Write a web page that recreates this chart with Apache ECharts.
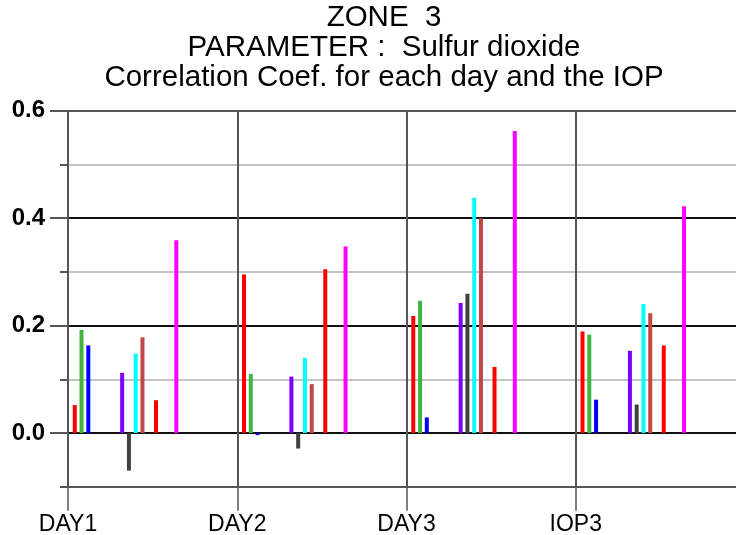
<!DOCTYPE html>
<html>
<head>
<meta charset="utf-8">
<script src="https://cdn.jsdelivr.net/npm/echarts@6/dist/echarts.min.js"></script>
<style>
html,body{margin:0;padding:0;background:#fff;}
#chart{width:736px;height:535px;}
</style>
</head>
<body>
<div id="chart"></div>
<script>
// ---- data ----
var categories = ['DAY1', 'DAY2', 'DAY3', 'IOP3'];
var redA    = [0.052, 0.295, 0.218, 0.189];
var green   = [0.192, 0.110, 0.246, 0.183];
var blue    = [0.163, -0.004, 0.029, 0.062];
var purple  = [0.112, 0.105, 0.242, 0.153];
var gray    = [-0.070, -0.029, 0.259, 0.053];
var cyan    = [0.148, 0.140, 0.438, 0.240];
var brown   = [0.178, 0.091, 0.400, 0.223];
var redB    = [0.061, 0.305, 0.123, 0.163];
var magenta = [0.359, 0.347, 0.562, 0.422];
var yTickLabels = ['0.0', '0.2', '0.4', '0.6'];

// ---- layout of slots within each group ----
var slotsPerGroup = 25;
var seriesDefs = [
  {values: redA,    slot: 1,  color: '#ff0000'},
  {values: green,   slot: 2,  color: '#3fb43f'},
  {values: blue,    slot: 3,  color: '#0000ff'},
  {values: purple,  slot: 8,  color: '#8000ff'},
  {values: gray,    slot: 9,  color: '#404040'},
  {values: cyan,    slot: 10, color: '#00ffff'},
  {values: brown,   slot: 11, color: '#c04848'},
  {values: redB,    slot: 13, color: '#ff0000'},
  {values: magenta, slot: 16, color: '#ff00ff'}
];

var series = seriesDefs.map(function (d) {
  return {
    type: 'bar',
    xAxisIndex: 0, yAxisIndex: 0,
    barWidth: 4,
    barGap: '-100%',
    itemStyle: {color: d.color},
    data: d.values.map(function (v, g) { return [g * slotsPerGroup + d.slot, v]; })
  };
});

var chart = echarts.init(document.getElementById('chart'), null, {renderer: 'canvas'});
chart.setOption({
  animation: false,
  backgroundColor: '#ffffff',
  title: {
    text: 'ZONE  3\nPARAMETER :  Sulfur dioxide\nCorrelation Coef. for each day and the IOP',
    left: 384, top: 3, padding: 0,
    textAlign: 'center',
    textStyle: {fontFamily: 'Liberation Sans, Arial, sans-serif', fontSize: 29.5, fontWeight: 'normal', color: '#000', lineHeight: 30}
  },
  grid: [
    {left: 68, width: 677, top: 110.7, height: 376, containLabel: false, outerBoundsMode: 'none'},
    {left: 68, width: 677, top: 110.7, height: 429.7, containLabel: false, outerBoundsMode: 'none'}
  ],
  xAxis: [
    {
      type: 'value', gridIndex: 0, min: 0, max: slotsPerGroup * 4, interval: slotsPerGroup,
      axisLine: {show: true, onZero: false, lineStyle: {color: '#555', width: 2}},
      axisTick: {show: true, inside: false, length: 24, lineStyle: {color: '#555', width: 1.5}},
      axisLabel: {
        show: true, margin: 26,
        fontFamily: 'Liberation Sans, Arial, sans-serif', fontSize: 23, color: '#000',
        formatter: function (v) { var i = Math.round(v / slotsPerGroup); return categories[i] || ''; }
      },
      splitLine: {show: true, lineStyle: {color: '#555', width: 2}}
    },
    {type: 'value', gridIndex: 1, min: 0, max: 100, show: false}
  ],
  yAxis: [
    {
      type: 'value', gridIndex: 0, min: -0.1, max: 0.6, interval: 0.1,
      axisLine: {show: true, onZero: false, lineStyle: {color: '#555', width: 2}},
      axisTick: {show: true, length: 8, lineStyle: {color: '#555', width: 2}},
      axisLabel: {show: false},
      splitLine: {show: true, lineStyle: {
        color: ['#555', '#111', '#c4c4c4', '#111', '#c4c4c4', '#111', '#c4c4c4', '#555'],
        width: 2
      }}
    },
    {
      type: 'value', gridIndex: 1, min: -0.2, max: 0.6, interval: 0.2,
      axisLine: {show: false, onZero: false},
      axisTick: {show: true, length: 18, lineStyle: {color: '#555', width: 2}},
      axisLabel: {
        margin: 23,
        fontFamily: 'Liberation Sans, Arial, sans-serif', fontSize: 24, fontWeight: 'bold', color: '#000',
        formatter: function (v) {
          var i = Math.round(v / 0.2);
          return i >= 0 ? (yTickLabels[i] || '') : '';
        }
      },
      splitLine: {show: false}
    }
  ],
  series: series
});
</script>
</body>
</html>
